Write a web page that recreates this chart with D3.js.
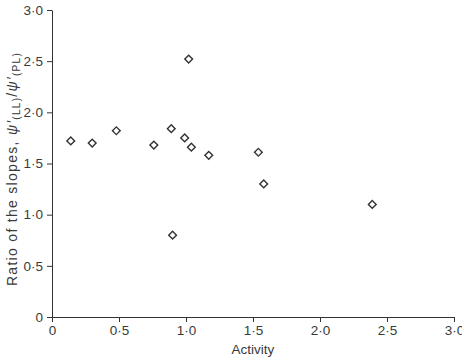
<!DOCTYPE html>
<html>
<head>
<meta charset="utf-8">
<script src="https://cdn.jsdelivr.net/npm/d3@7"></script>
<style>
  body { margin: 0; background: #fff; }
  svg { display: block; }
</style>
</head>
<body>
<div id="chart"></div>
<script>
// Data
const activity = [0.14, 0.30, 0.48, 0.76, 0.89, 0.90, 0.99, 1.02, 1.04, 1.17, 1.54, 1.58, 2.39];
const ratio    = [1.72, 1.70, 1.82, 1.68, 1.84, 0.80, 1.75, 2.52, 1.66, 1.58, 1.61, 1.30, 1.10];
const xTicks = [0, 0.5, 1.0, 1.5, 2.0, 2.5, 3.0];
const yTicks = [0, 0.5, 1.0, 1.5, 2.0, 2.5, 3.0];

const width = 462, height = 358;
const margin = { top: 10, right: 8, bottom: 41, left: 52 };
const textColor = "#3a3a3a";
const font = "'Liberation Sans', Arial, sans-serif";

// format with a raised decimal point, as in the journal style
const fmt = v => v === 0 ? "0" : v.toFixed(1).replace(".", "\u00B7");

const svg = d3.select("#chart").append("svg")
    .attr("width", width)
    .attr("height", height);

const x = d3.scaleLinear().domain([0, 3]).range([margin.left, width - margin.right]);
const y = d3.scaleLinear().domain([0, 3]).range([height - margin.bottom, margin.top]);

const xAxis = svg.append("g")
    .attr("transform", `translate(0,${height - margin.bottom})`)
    .call(d3.axisBottom(x).tickValues(xTicks).tickFormat(fmt).tickSize(5).tickSizeOuter(0));

const yAxis = svg.append("g")
    .attr("transform", `translate(${margin.left},0)`)
    .call(d3.axisLeft(y).tickValues(yTicks).tickFormat(fmt).tickSize(5).tickSizeOuter(0));

[xAxis, yAxis].forEach(a => {
    a.select(".domain").attr("stroke", "#333").attr("stroke-width", 1);
    a.selectAll(".tick line").attr("stroke", "#333").attr("stroke-width", 1);
    a.selectAll(".tick text")
        .attr("fill", textColor)
        .attr("font-size", "13.5px")
        .attr("font-family", font);
});
yAxis.selectAll(".tick text").attr("x", -9);

// Axis titles
svg.append("text")
    .attr("x", (margin.left + width - margin.right) / 2)
    .attr("y", height - 4)
    .attr("text-anchor", "middle")
    .attr("fill", textColor)
    .attr("font-size", "13.5px")
    .attr("font-family", font)
    .text("Activity");

const yTitle = svg.append("text")
    .attr("transform", `translate(17,169) rotate(-90)`)
    .attr("text-anchor", "middle")
    .attr("fill", textColor)
    .attr("font-size", "14px")
    .attr("letter-spacing", "1.3px")
    .attr("font-family", font);
yTitle.append("tspan").text("Ratio of the slopes, ");
yTitle.append("tspan").attr("font-style", "italic").text("\u03C8\u2032");
yTitle.append("tspan").attr("font-size", "10px").attr("dy", "3").text("(LL)");
yTitle.append("tspan").attr("dy", "-3").text("/");
yTitle.append("tspan").attr("font-style", "italic").text("\u03C8\u2032");
yTitle.append("tspan").attr("font-size", "10px").attr("dy", "3").text("(PL)");

// Diamond markers
const diamond = d3.symbol().type(d3.symbolSquare).size(30);
svg.append("g")
    .selectAll("path")
    .data(activity.map((a, i) => ({ a, r: ratio[i] })))
    .join("path")
    .attr("d", diamond)
    .attr("transform", d => `translate(${x(d.a)},${y(d.r)}) rotate(45)`)
    .attr("fill", "#fff")
    .attr("stroke", "#333")
    .attr("stroke-width", 1.4);
</script>
</body>
</html>
